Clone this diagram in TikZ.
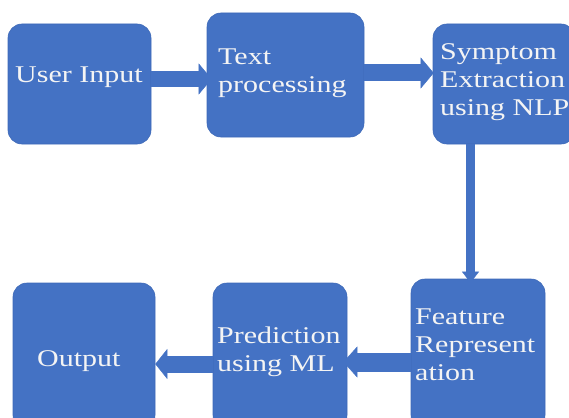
\documentclass[tikz,border=0pt]{standalone}
\usepackage{fontspec}
\setmainfont{Liberation Serif}[FakeStretch=1.25]
\usetikzlibrary{arrows.meta}
\definecolor{boxblue}{HTML}{4472C4}
\definecolor{edgeblue}{HTML}{3E69B8}
\definecolor{txtwhite}{HTML}{F4F4F4}
\begin{document}
\begin{tikzpicture}[x=1pt,y=-1pt,
  box/.style={draw=edgeblue, line width=0.6pt, fill=boxblue, rounded corners=14pt, inner sep=0pt},
  txt/.style={anchor=north west, inner sep=0pt, align=left, text=txtwhite,
    font=\fontsize{24}{28}\selectfont},
  fat/.style n args={3}{draw=boxblue, line width=#1,
    -{Triangle[width=#2 0 0, length=#3 0 0, line width=0.4pt 0 0, color=boxblue, fill=boxblue]}}]
\useasboundingbox (0,0) rectangle (569,417);
\clip (0,0) rectangle (569,417);
% boxes
\node[box, minimum width=143pt, minimum height=120pt] (ui)  at (79.5,84)  {};
\node[box, minimum width=157pt, minimum height=124pt] (tp)  at (285.5,75) {};
\node[box, minimum width=142pt, minimum height=120pt] (se)  at (504,84)   {};
\node[box, minimum width=134pt, minimum height=150pt] (fr)  at (478,354)  {};
\node[box, minimum width=134pt, minimum height=146pt] (pm)  at (280,356)  {};
\node[box, minimum width=142pt, minimum height=146pt] (out) at (84,356)   {};
% texts
\node[txt] (uiT)  at (15,67)  {User Input};
\node[txt] (tpT)  at (218,49) {Text\\processing};
\node[txt] (seT)  at (440,43) {Symptom\\Extraction\\using NLP};
\node[txt] (frT)  at (415,309) {Feature\\Represent\\ation};
\node[txt] (pmT)  at (217,327) {Prediction\\using ML};
\node[txt] (outT) at (37,350) {Output};
% helper coordinates for connector heights
\coordinate (h1) at (0,79);
\coordinate (h2) at (0,73);
\coordinate (v1) at (470.5,0);
\coordinate (h3) at (0,362);
\coordinate (h4) at (0,364);
% connectors
\draw[fat={16pt}{31pt}{13pt}, shorten >=-5pt] (ui.east |- h1) -- (tp.west |- h1);
\draw[fat={17pt}{31pt}{13pt}, shorten >=-1pt] (tp.east |- h2) -- (se.west |- h2);
\draw[fat={9pt}{17pt}{11pt}, shorten >=-4pt] (se.south -| v1) -- (fr.north -| v1);
\draw[fat={19pt}{31pt}{14pt}, shorten >=-4pt] (fr.west |- h3) -- (pm.east |- h3);
\draw[fat={17pt}{30pt}{12pt}] (pm.west |- h4) -- (out.east |- h4);
\end{tikzpicture}
\end{document}
